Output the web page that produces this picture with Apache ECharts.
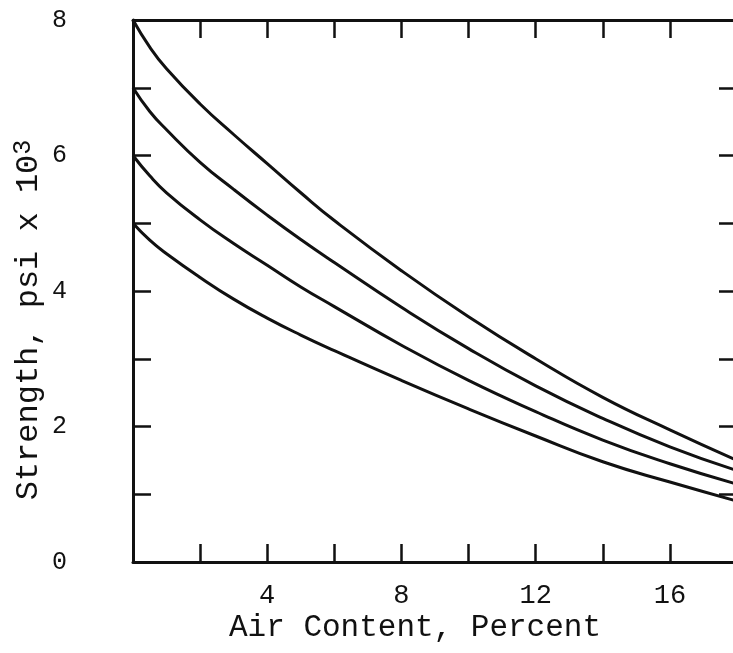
<!DOCTYPE html>
<html>
<head>
<meta charset="utf-8">
<script src="https://cdn.jsdelivr.net/npm/echarts@6/dist/echarts.min.js"></script>
<style>
  html, body { margin: 0; padding: 0; background: #fff; }
  #chart { width: 733px; height: 653px; }
</style>
</head>
<body>
<div id="chart"></div>
<script>
// air content, percent
var airContent = [0, 0.5, 1, 2, 3, 4, 5, 6, 8, 10, 12, 14, 16, 18];
// strength, psi x 10^3, one curve per starting strength
var curve8 = [8.0, 7.6, 7.28, 6.76, 6.31, 5.88, 5.45, 5.04, 4.3, 3.62, 3.0, 2.43, 1.95, 1.5];
var curve7 = [7.0, 6.65, 6.38, 5.9, 5.5, 5.12, 4.76, 4.42, 3.76, 3.15, 2.6, 2.12, 1.7, 1.35];
var curve6 = [6.0, 5.7, 5.45, 5.05, 4.7, 4.38, 4.06, 3.77, 3.2, 2.68, 2.22, 1.8, 1.45, 1.15];
var curve5 = [5.0, 4.75, 4.55, 4.2, 3.88, 3.6, 3.35, 3.12, 2.68, 2.26, 1.86, 1.48, 1.18, 0.9];

var font = 'Liberation Mono';
var ink = '#111';

function pairs(ys) {
	return airContent.map(function(x, i) { return [x, ys[i]]; });
}

function line(ys) {
	return {
		type: 'line',
		data: pairs(ys),
		smooth: 0.5,
		symbol: 'none',
		lineStyle: { color: ink, width: 3 }
	};
}

var myChart = echarts.init(document.getElementById('chart'));

var frameLine = { show: true, onZero: false, lineStyle: { color: ink, width: 3 } };
var tickIn = { show: true, inside: true, length: 18, lineStyle: { color: ink, width: 2.5 } };

myChart.setOption({
	backgroundColor: '#fff',
	animation: false,
	grid: { left: 133, top: 20, right: -4, bottom: 91, outerBoundsMode: 'none', containLabel: false },
	xAxis: [{
		type: 'value', min: 0, max: 18, interval: 2,
		axisLine: frameLine, axisTick: tickIn, splitLine: { show: false },
		axisLabel: {
			margin: 20, color: ink, fontFamily: font, fontSize: 27,
			formatter: function(v) { return (v > 0 && v % 4 === 0) ? v : ''; }
		},
		name: 'Air Content, Percent', nameLocation: 'middle', nameGap: 50, nameMoveOverlap: false,
		nameTextStyle: { color: ink, fontFamily: font, fontSize: 31, padding: [0, 40, 0, 0] }
	}, {
		type: 'value', min: 0, max: 18, interval: 2, position: 'top',
		axisLine: frameLine, axisTick: tickIn, axisLabel: { show: false }, splitLine: { show: false }
	}],
	yAxis: [{
		type: 'value', min: 0, max: 8, interval: 1,
		axisLine: frameLine, axisTick: tickIn, splitLine: { show: false },
		axisLabel: {
			margin: 66, color: ink, fontFamily: font, fontSize: 25,
			formatter: function(v) { return v % 2 === 0 ? v : ''; }
		},
		name: '{base|Strength, psi x 10}{sup|3}', nameLocation: 'middle', nameGap: 88, nameMoveOverlap: false,
		nameTextStyle: {
			color: ink, fontFamily: font, fontSize: 32, padding: [0, 58, 0, 0],
			rich: {
				base: { fontFamily: font, fontSize: 32, color: ink, lineHeight: 34, padding: [16, 0, 0, 0], verticalAlign: 'bottom' },
				sup: { fontFamily: font, fontSize: 25, color: ink, lineHeight: 22, verticalAlign: 'top' }
			}
		}
	}, {
		type: 'value', min: 0, max: 8, interval: 1, position: 'right',
		axisLine: frameLine, axisTick: tickIn, axisLabel: { show: false }, splitLine: { show: false }
	}],
	series: [line(curve8), line(curve7), line(curve6), line(curve5)]
});

window.onresize = function() {
	myChart.resize();
};
</script>
</body>
</html>
